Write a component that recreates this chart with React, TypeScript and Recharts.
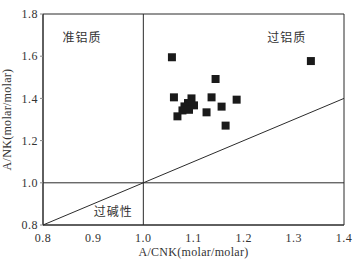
import {
  ScatterChart,
  Scatter,
  XAxis,
  YAxis,
  ReferenceLine,
  ReferenceArea,
  ReferenceDot,
} from "recharts";

const xTicks = [0.8, 0.9, 1.0, 1.1, 1.2, 1.3, 1.4];
const yTicks = [0.8, 1.0, 1.2, 1.4, 1.6, 1.8];

// A/CNK vs A/NK
const samples = [
  { acnk: 1.057, anK: 1.595 },
  { acnk: 1.334, anK: 1.577 },
  { acnk: 1.144, anK: 1.492 },
  { acnk: 1.061, anK: 1.405 },
  { acnk: 1.096, anK: 1.4 },
  { acnk: 1.136, anK: 1.405 },
  { acnk: 1.186, anK: 1.394 },
  { acnk: 1.156, anK: 1.361 },
  { acnk: 1.101, anK: 1.367 },
  { acnk: 1.126, anK: 1.334 },
  { acnk: 1.068, anK: 1.315 },
  { acnk: 1.164, anK: 1.271 },
  { acnk: 1.089, anK: 1.378 },
  { acnk: 1.082, anK: 1.362 },
  { acnk: 1.078, anK: 1.343 },
  { acnk: 1.091, anK: 1.346 },
];

const fields = [
  { name: "准铝质", x: 0.878, y: 1.689 },
  { name: "过铝质", x: 1.286, y: 1.689 },
  { name: "过碱性", x: 0.94, y: 0.864 },
];

const serif = "'Liberation Serif', 'Times New Roman', serif";
const ink = "#2b2b2b";

export default function App() {
  return (
    <div style={{ position: "absolute", left: 0, top: 0, background: "#fff" }}>
      <ScatterChart
        width={358}
        height={262}
        margin={{ top: 14, right: 14, bottom: 0, left: 0 }}
      >
        <XAxis
          type="number"
          dataKey="acnk"
          domain={[0.8, 1.4]}
          ticks={xTicks}
          tickFormatter={(v: number) => v.toFixed(1)}
          height={37}
          tick={{ fontSize: 12, fill: "#333", fontFamily: serif, letterSpacing: 0.5 }}
          tickLine={false}
          axisLine={{ stroke: ink }}
          tickMargin={2}
          label={{
            value: "A/CNK(molar/molar)",
            position: "insideBottom",
            offset: 6,
            style: { fontSize: 12, fill: "#333", fontFamily: serif, letterSpacing: 0.3 },
          }}
        />
        <YAxis
          type="number"
          dataKey="anK"
          domain={[0.8, 1.8]}
          ticks={yTicks}
          tickFormatter={(v: number) => v.toFixed(1)}
          width={43}
          tick={{ fontSize: 12, fill: "#333", fontFamily: serif, letterSpacing: 0.5 }}
          tickSize={3}
          tickLine={{ stroke: "#888" }}
          axisLine={{ stroke: ink }}
          label={{
            value: "A/NK(molar/molar)",
            angle: -90,
            position: "insideLeft",
            offset: 7,
            style: { fontSize: 12, fill: "#333", fontFamily: serif, textAnchor: "middle", letterSpacing: 0.3 },
          }}
        />
        <ReferenceArea
          x1={0.8}
          x2={1.4}
          y1={0.8}
          y2={1.8}
          fill="none"
          stroke={ink}
          strokeWidth={1}
        />
        <ReferenceLine x={1.0} stroke={ink} />
        <ReferenceLine y={1.0} stroke={ink} />
        <ReferenceLine
          segment={[
            { x: 0.8, y: 0.8 },
            { x: 1.4, y: 1.4 },
          ]}
          stroke={ink}
        />
        {fields.map((f) => (
          <ReferenceDot
            key={f.name}
            x={f.x}
            y={f.y}
            r={0}
            stroke="none"
            label={{
              value: f.name,
              position: "center",
              style: {
                fontSize: 12,
                fill: "#333",
                fontFamily: "'Noto Sans CJK SC', sans-serif",
                letterSpacing: 1,
              },
            }}
          />
        ))}
        <Scatter
          data={samples}
          shape="square"
          fill="#1a1a1a"
          legendType="square"
          isAnimationActive={false}
          size={49}
        />
      </ScatterChart>
    </div>
  );
}
